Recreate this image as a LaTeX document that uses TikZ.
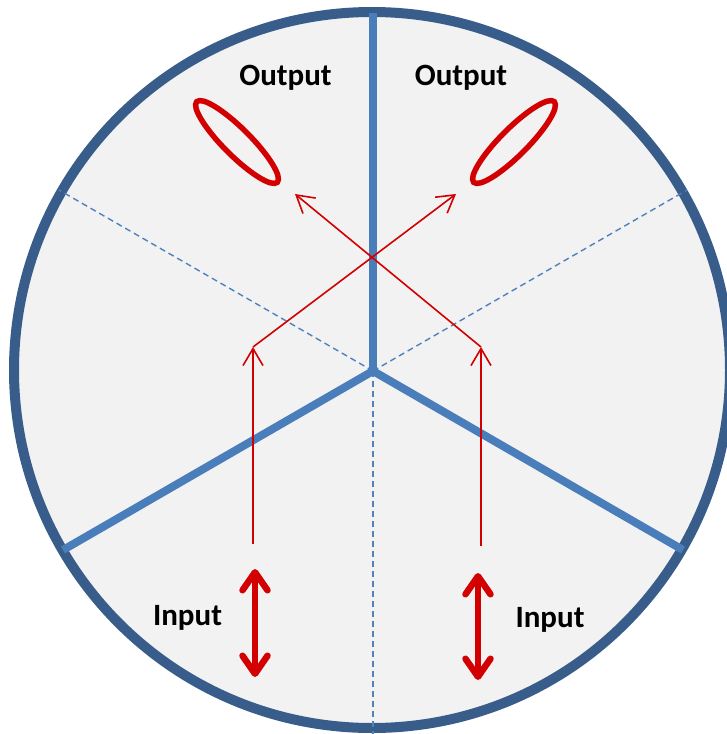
\documentclass[tikz,border=0pt]{standalone}
\usepackage{fontspec}
\setmainfont{Carlito}
\usetikzlibrary{arrows.meta,shapes.geometric}
\definecolor{ringblue}{RGB}{56,93,138}
\definecolor{spokeblue}{RGB}{74,126,187}
\definecolor{dashblue}{RGB}{79,129,189}
\definecolor{diskgray}{RGB}{242,242,242}
\definecolor{myred}{RGB}{210,0,0}
\tikzset{
  ring/.style={draw=ringblue, fill=diskgray, line width=10pt},
  spoke/.style={draw=spokeblue, line width=8pt},
  guide/.style={draw=dashblue, line width=1.4pt, dash pattern=on 6pt off 4pt},
  thinred/.style={draw=myred, line width=1.6pt, -{Straight Barb[length=17pt,width=20pt]}},
  bigarrow/.style={draw=myred, line width=6.5pt, line cap=round,
     {Straight Barb[length=18pt,width=25pt,line cap=round,round]}-{Straight Barb[length=18pt,width=25pt,line cap=round,round]}},
  pol/.style={draw=myred, line width=5.5pt, ellipse, inner sep=0pt, minimum width=114pt, minimum height=27pt},
  lbl/.style={anchor=base, font=\bfseries\fontsize{31}{37}\selectfont, text=black, inner sep=0pt}
}
\begin{document}
\begin{tikzpicture}[x=1pt,y=-1pt]
\useasboundingbox (0,0) rectangle (727,734);
\clip (0,0) rectangle (727,734);
% disk
\path[ring] (372,370) circle [radius=358pt];
% hub and ends
\coordinate (hub) at (373,371);
\coordinate (sTop) at (373,13);
\coordinate (sLeft) at (63,550);
\coordinate (sRight) at (683,550);
\coordinate (dLeft) at (59,190);
\coordinate (dRight) at (687,190);
\coordinate (dBottom) at (373,734);
% dashed guides
\draw[guide] (hub) -- (dLeft);
\draw[guide] (hub) -- (dRight);
\draw[guide] (hub) -- (dBottom);
% spokes
\draw[spoke] (hub) -- (sTop);
\draw[spoke] (hub) -- (sLeft);
\draw[spoke] (hub) -- (sRight);
% output polarisation ellipses
\node[pol, rotate=-45] (ellL) at (237,142) {};
\node[pol, rotate=45] (ellR) at (514,142) {};
% thin ray arrows
\coordinate (inL) at (253,544);
\coordinate (bendL) at (253,347);
\coordinate (tipR) at (456,194);
\coordinate (inR) at (481,546);
\coordinate (bendR) at (481,347);
\coordinate (tipL) at (295,194);
\draw[thinred] (inL) -- (bendL);
\draw[thinred] (bendL) -- (tipR);
\draw[thinred] (inR) -- (bendR);
\draw[thinred] (bendR) -- (tipL);
% input double arrows
\coordinate (aL1) at (255,569);
\coordinate (aL2) at (255,677);
\coordinate (aR1) at (478,573);
\coordinate (aR2) at (478,680);
\draw[bigarrow] (aL1) -- (aL2);
\draw[bigarrow] (aR1) -- (aR2);
% labels
\node[lbl] (outL) at (285.5,85) {Output};
\node[lbl] (outR) at (461,85) {Output};
\node[lbl] (inpL) at (187.5,625) {Input};
\node[lbl] (inpR) at (550,627) {Input};
\end{tikzpicture}
\end{document}
